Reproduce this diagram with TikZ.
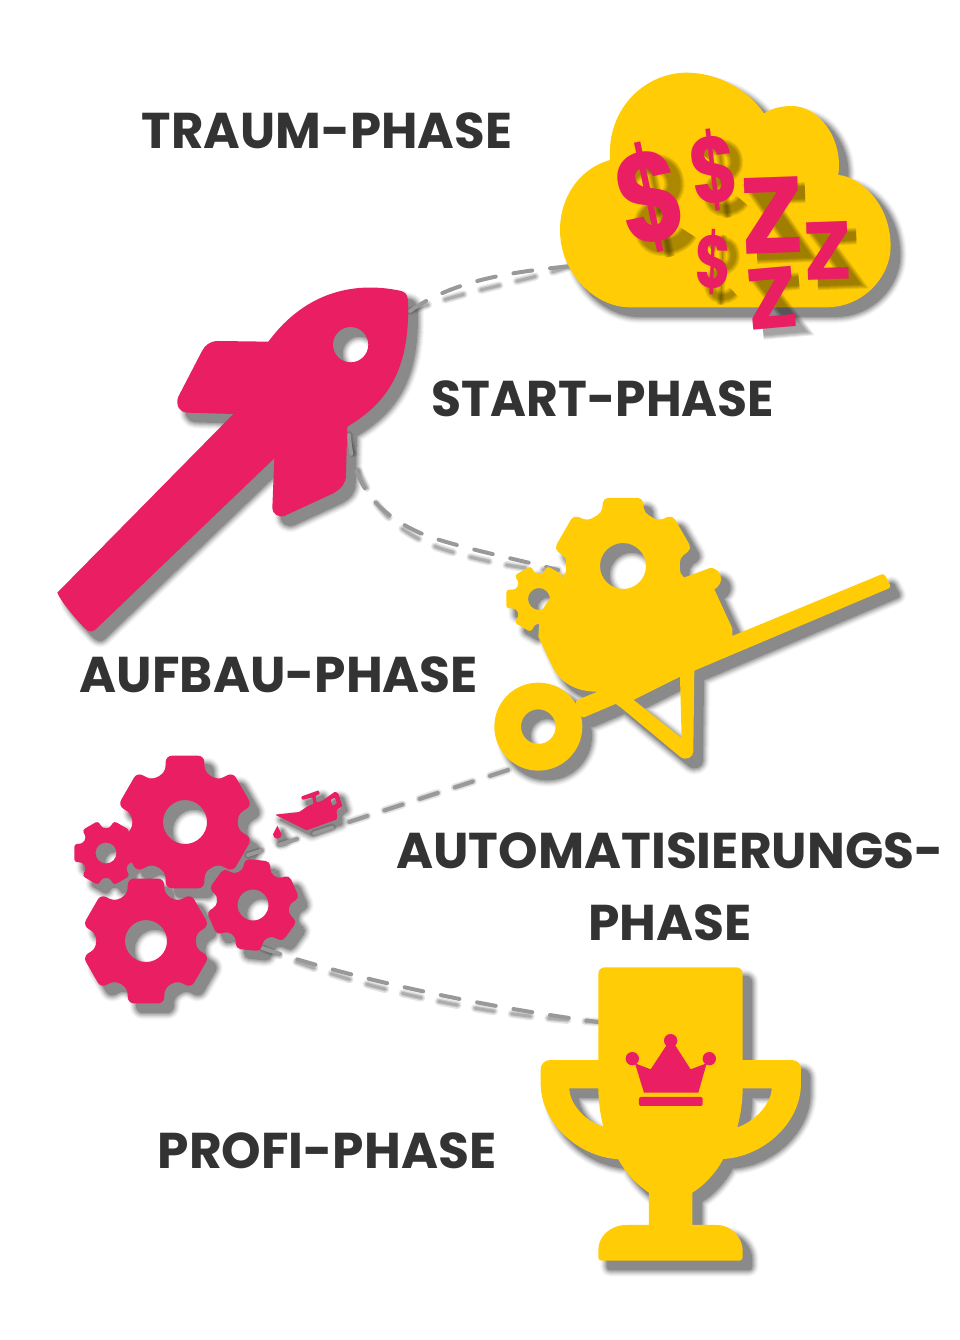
\documentclass[tikz,border=0pt]{standalone}
\usepackage{fontspec}
\setmainfont{Poppins}
\usetikzlibrary{positioning}
\definecolor{pinkish}{HTML}{E91E63}
\definecolor{goldish}{HTML}{FFCC05}
\definecolor{labelgray}{HTML}{333333}
\definecolor{dashgray}{HTML}{999999}
\tikzset{
  zoomed/.style={shift={(#1)},x=.3333pt,y=-.3333pt},
  phase/.style={font=\fontsize{50.3}{72}\selectfont\bfseries,text=labelgray,align=center,inner sep=0pt},
  connector/.style={draw=dashgray,line width=4pt,line cap=round,dash pattern=on 19pt off 18pt},
  connshadow/.style={draw=black,draw opacity=#1,line cap=round,dash pattern=on 19pt off 18pt,shift={(9,11)}},
  glyph/.style={font=\bfseries,inner sep=0pt}
}
% gear: cx,cy,outer,root,hole,rot,corner
\newcommand\gearpart[7]{%
  \path[part,shift={(#1,#2)},rounded corners=#7pt] ({#6-30}:#4)
    \foreach \i in {0,...,5}{
      -- ({#6+\i*60-22}:#4) -- ({#6+\i*60-16}:#3) -- ({#6+\i*60+16}:#3)
      -- ({#6+\i*60+22}:#4) -- ({#6+\i*60+30}:#4)
    } (0,0) circle (#5);
}
\newcommand\softshadow[1]{%
  \foreach \w/\g in {14/3,12/7,10/12,8/19,6/26,4/33,2/40,0/46}{
    \begin{scope}[shift={(9,9)},part/.style={draw=black!\g,fill=black!\g,line width=\w pt,line join=round,even odd rule}]
      #1
    \end{scope}
  }
}
\newcommand\solidfill[2]{%
  \begin{scope}[part/.style={fill=#2,even odd rule}]
    #1
  \end{scope}
}
% shadows of the money and sleep signs: x,y,rot,width,height
\newcommand\dollarshadow[5]{%
  \begin{scope}[shift={(#1+9,#2+8)},rotate=#3]
    \foreach \e in {-4,-2,0,2,4}{
      \draw[black,draw opacity=.075,line width=.27*#4pt+\e pt,x=#4pt,y=#5pt]
        (.38,-.3) .. controls (.2,-.42) and (-.36,-.42) .. (-.33,-.18)
        .. controls (-.3,.04) and (.3,-.04) .. (.33,.18)
        .. controls (.36,.42) and (-.2,.42) .. (-.38,.3);
      \draw[black,draw opacity=.075,line width=.1*#4pt+\e pt,x=#4pt,y=#5pt] (0,-.48) -- (0,.48);
    }
  \end{scope}
}
\newcommand\zedshadow[5]{%
  \begin{scope}[shift={(#1+9,#2+8)},rotate=#3]
    \foreach \e in {-4,-2,0,2,4}{
      \draw[black,draw opacity=.085,line width=.22*#5pt+\e pt,x=#4pt,y=#5pt]
        (-.5,-.39) -- (.38,-.39) -- (-.38,.39) -- (.5,.39);
    }
  \end{scope}
}
\newcommand\cloudparts{%
  \begin{scope}[zoomed={540,60}]
    \path[part] (270,742) -- (860,742) .. controls (970,742) and (1052,650) .. (1052,560)
      .. controls (1052,430) and (960,350) .. (895,345)
      .. controls (910,240) and (840,138) .. (755,138)
      .. controls (720,138) and (690,148) .. (672,160)
      .. controls (620,85) and (530,38) .. (440,38)
      .. controls (320,38) and (200,140) .. (210,300)
      .. controls (120,325) and (60,410) .. (60,510)
      .. controls (60,640) and (165,742) .. (270,742) -- cycle;
  \end{scope}
}
\newcommand\rocketparts{%
  \begin{scope}[zoomed={40,270}]
    \path[part] (52,968) .. controls (60,990) and (100,1040) .. (135,1075)
      .. controls (145,1085) and (155,1088) .. (165,1080) -- (703,565) -- (697,715)
      .. controls (697,730) and (715,745) .. (735,737) -- (880,670)
      .. controls (905,655) and (918,640) .. (918,615) -- (922,470)
      .. controls (1040,400) and (1112,300) .. (1104,90)
      .. controls (1102,72) and (1095,65) .. (1080,62)
      .. controls (950,35) and (800,60) .. (685,215) -- (535,213)
      .. controls (510,213) and (495,225) .. (485,245) -- (415,380)
      .. controls (405,405) and (420,428) .. (440,428) -- (580,432) -- cycle
      (932,224) circle (53);
  \end{scope}
}
\newcommand\barrowparts{%
  \begin{scope}[zoomed={480,480}]
    \path[part] (175,470) -- (215,555) .. controls (240,610) and (290,635) .. (350,635)
      -- (420,680) -- (780,500) -- (757,465) -- (757,445) -- (703,328)
      .. controls (725,315) and (730,290) .. (712,272) .. controls (700,262) and (690,262) .. (680,268)
      -- (600,297) -- (560,330) -- (430,345) -- (300,330) -- (250,295) -- (180,400) -- cycle;
    \path[part,rounded corners=3pt] (285,663) -- (1212,280) -- (1234,322) -- (305,715) -- cycle;
    \path[part] (410,672) -- (600,830) .. controls (620,845) and (640,830) .. (640,815)
      -- (643,570) -- (600,590) -- (605,775) -- (455,655) -- cycle;
    \path[part] (175,740) circle (132) (175,740) circle (52);
  \end{scope}
  \gearpart{623}{566}{71}{57}{23}{90}{5}
  \gearpart{539}{599}{34}{25}{11}{0}{3}
}
\newcommand\gearsparts{%
  \gearpart{185}{822}{69}{53}{22}{90}{6}
  \gearpart{106}{853}{33}{25}{10.5}{0}{3}
  \gearpart{146}{941}{65}{50}{21}{90}{6}
  \gearpart{253}{905}{47}{36}{15.5}{-84}{5}
}
\newcommand\oilparts{%
  \begin{scope}[zoomed={60,740}]
    \path[part,rounded corners=1pt] (645,224) -- (718,216) -- (745,197) -- (761,192) -- (757,172) -- (727,180)
      -- (723,170) -- (776,151) -- (780,162) -- (766,168) -- (770,188) -- (787,182) -- (825,155)
      -- (835,160) -- (847,198) -- (830,210) -- (831,238) -- (740,271) -- cycle
      (811,180) -- (825,172) -- (831,190) -- (818,198) -- cycle;
    \path[part] (652,257) -- (665,283) arc (0:180:13) -- cycle;
  \end{scope}
}
\newcommand\trophyparts{%
  \begin{scope}[zoomed={520,950}]
    \path[part] (255,52) -- (648,52) .. controls (660,52) and (668,60) .. (668,72) -- (668,330) -- (815,330)
      .. controls (833,330) and (843,342) .. (843,358) -- (843,400)
      .. controls (843,520) and (730,620) .. (610,627)
      .. controls (590,665) and (555,705) .. (517,728) -- (517,825) -- (590,825)
      .. controls (640,825) and (668,870) .. (668,900) -- (668,922)
      .. controls (668,928) and (664,932) .. (658,932) -- (245,932)
      .. controls (239,932) and (235,928) .. (235,922) -- (235,900)
      .. controls (235,860) and (270,825) .. (320,825) -- (387,825) -- (387,728)
      .. controls (345,700) and (315,665) .. (295,628)
      .. controls (175,620) and (62,520) .. (62,400) -- (62,358)
      .. controls (62,342) and (75,330) .. (90,330) -- (235,330) -- (235,72)
      .. controls (235,60) and (243,52) .. (255,52) -- cycle
      (668,415) -- (755,415) .. controls (755,460) and (705,515) .. (652,532)
      .. controls (663,490) and (668,450) .. (668,415) -- cycle
      (235,415) -- (148,415) .. controls (148,460) and (195,515) .. (250,530)
      .. controls (240,490) and (235,450) .. (235,415) -- cycle;
  \end{scope}
}
\begin{document}
\begin{tikzpicture}[x=1pt,y=-1pt]
  \useasboundingbox (0,0) rectangle (960,1340);
  \coordinate (rockettip) at (410,311);
  \coordinate (cloudleft) at (572,266);
  \coordinate (rocketfin) at (349,435);
  \coordinate (barrowgear) at (558,570);
  \coordinate (barrowwheel) at (508,770);
  \coordinate (gearstop) at (248,855);
  \coordinate (gearsbottom) at (262,948);
  \coordinate (trophyleft) at (598,1022);

  % shadows first
  \softshadow{\cloudparts}
  \softshadow{\rocketparts}
  \softshadow{\barrowparts}
  \softshadow{\gearsparts}
  \begin{scope}[shift={(-4,-4)}]
    \softshadow{\oilparts}
  \end{scope}
  \softshadow{\trophyparts}

  % dashed connectors
  \foreach \o/\lw in {.1/8,.12/5,.14/3}{
    \draw[connshadow=\o,line width=\lw pt] (rockettip) .. controls (455,280) and (510,272) .. (cloudleft);
    \draw[connshadow=\o,line width=\lw pt] (rocketfin) .. controls (352,490) and (385,520) .. (430,537) .. controls (470,550) and (520,560) .. (barrowgear);
    \draw[connshadow=\o,line width=\lw pt] (barrowwheel) -- (gearstop);
    \draw[connshadow=\o,line width=\lw pt] (gearsbottom) .. controls (340,975) and (470,1005) .. (trophyleft);
  }
  \draw[connector] (rockettip) .. controls (455,280) and (510,272) .. (cloudleft);
  \draw[connector] (rocketfin) .. controls (352,490) and (385,520) .. (430,537) .. controls (470,550) and (520,560) .. (barrowgear);
  \draw[connector] (barrowwheel) -- (gearstop);
  \draw[connector] (gearsbottom) .. controls (340,975) and (470,1005) .. (trophyleft);

  % shapes
  \solidfill{\cloudparts}{goldish}
  \solidfill{\rocketparts}{pinkish}
  \solidfill{\barrowparts}{goldish}
  \solidfill{\gearsparts}{pinkish}
  \solidfill{\oilparts}{pinkish}
  \solidfill{\trophyparts}{goldish}

  % crown on the cup
  \begin{scope}[zoomed={520,950},fill=pinkish]
    \fill (372,428) -- (345,340) -- (392,358) -- (440,285) -- (465,285) -- (512,358) -- (560,340) -- (535,428) -- cycle;
    \fill (337,326) circle (20) (452,272) circle (20) (568,326) circle (20);
    \fill[rounded corners=2pt] (357,441) rectangle (548,468);
  \end{scope}

  % money and sleep
  \dollarshadow{650}{197}{12}{60}{110}
  \dollarshadow{714}{170}{7}{43}{83}
  \dollarshadow{713}{262}{-2}{33}{72}
  \zedshadow{772}{215}{2}{50}{76}
  \zedshadow{828}{251}{2}{40}{57}
  \zedshadow{772}{298}{5}{40}{60}
  \node[glyph,text=pinkish,rotate=12,yscale=1.27,font=\fontsize{100}{100}\selectfont\bfseries] (dollarbig) at (650,197) {\$};
  \node[glyph,text=pinkish,rotate=7,yscale=1.3,font=\fontsize{72}{72}\selectfont\bfseries] (dollartop) at (714,170) {\$};
  \node[glyph,text=pinkish,rotate=-2,yscale=1.35,font=\fontsize{55}{55}\selectfont\bfseries] (dollarlow) at (713,262) {\$};
  \node[glyph,text=pinkish,rotate=2,font=\fontsize{108}{108}\selectfont\bfseries] (sleepbig) at (772,215) {Z};
  \node[glyph,text=pinkish,rotate=2,font=\fontsize{82}{82}\selectfont\bfseries] (sleepright) at (828,251) {Z};
  \node[glyph,text=pinkish,rotate=5,font=\fontsize{86}{86}\selectfont\bfseries] (sleeplow) at (772,298) {Z};

  % labels
  \node[phase,xscale=.99] (traum) at (327,131) {TRAUM-PHASE};
  \node[phase,xscale=.97] (start) at (603,399) {START-PHASE};
  \node[phase] (aufbau) at (279,675) {AUFBAU-PHASE};
  \node[phase] (auto) at (670,887) {AUTOMATISIERUNGS-\\PHASE};
  \node[phase] (profi) at (327,1151) {PROFI-PHASE};
\end{tikzpicture}
\end{document}
